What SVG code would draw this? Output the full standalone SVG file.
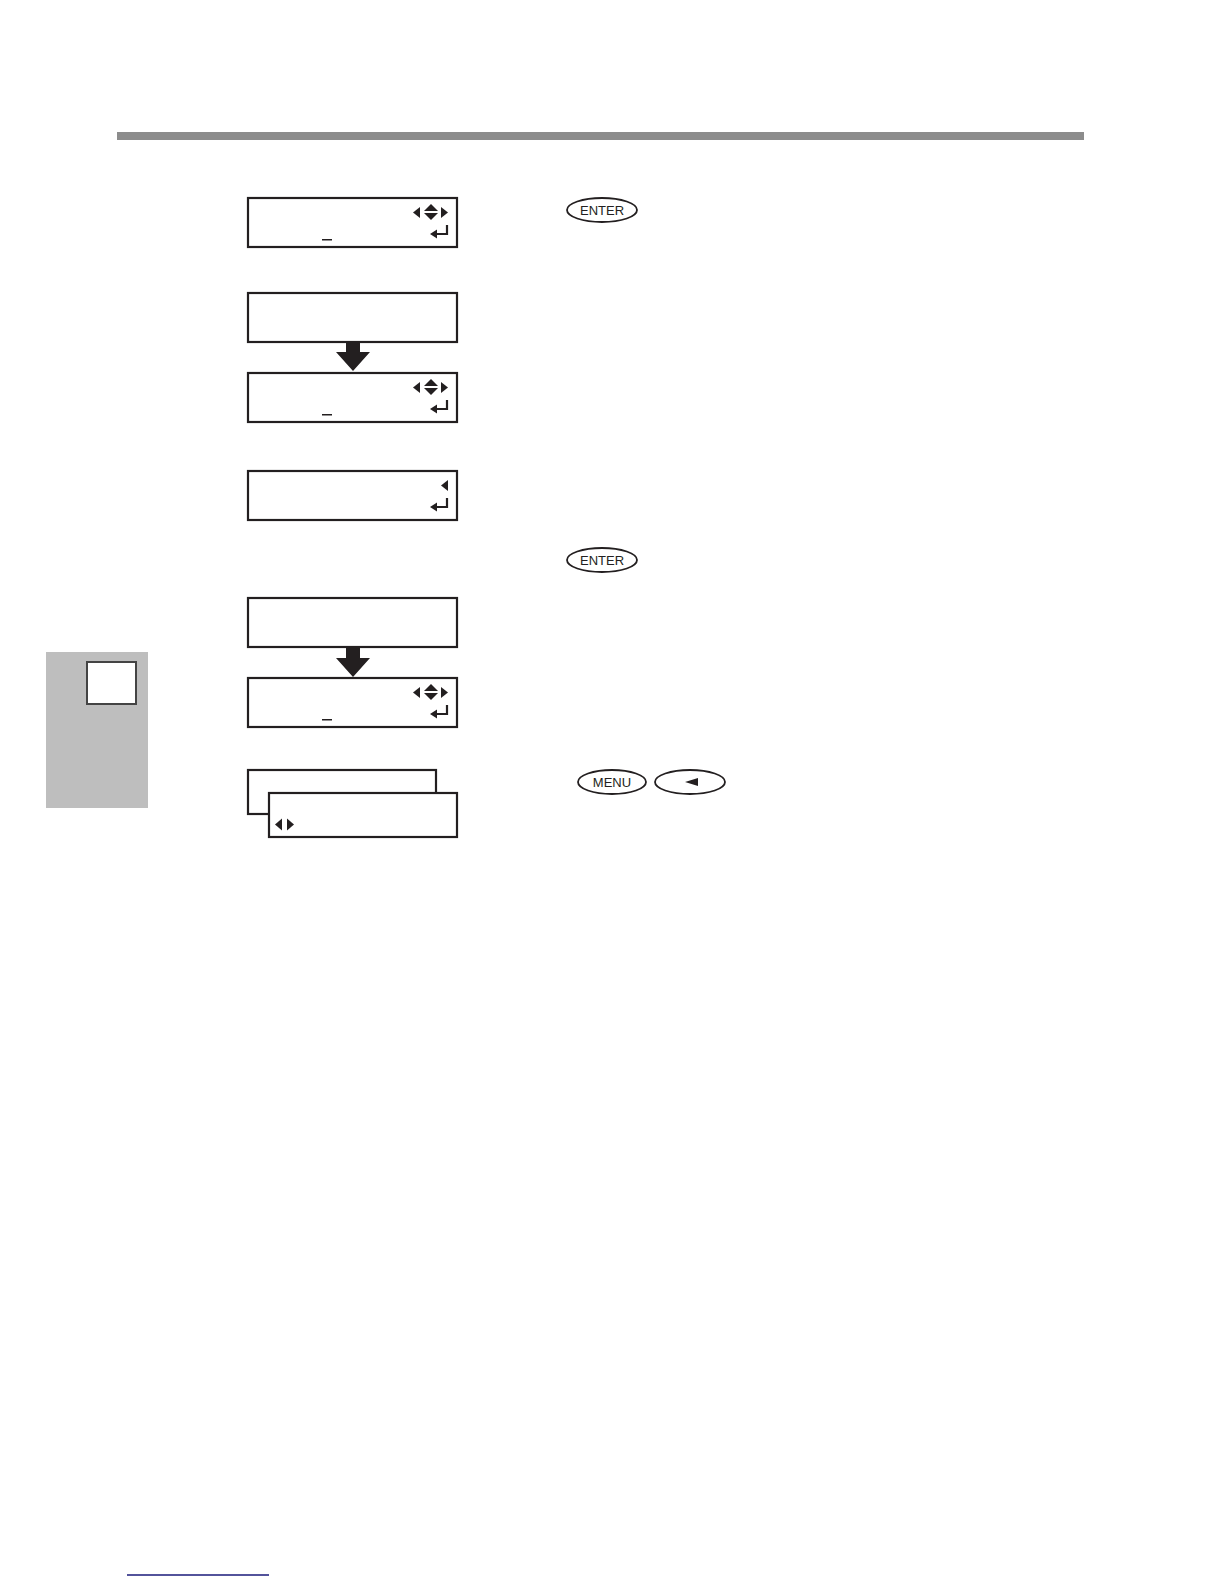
<svg xmlns="http://www.w3.org/2000/svg" xmlns:xlink="http://www.w3.org/1999/xlink" width="1224" height="1584" viewBox="0 0 1224 1584">
<style>
.lcd{fill:#fff;stroke:#231f20;stroke-width:2.2}
.ico{fill:#231f20}
.btn{fill:#fff;stroke:#231f20;stroke-width:1.8}
.btxt{font-family:"Liberation Sans",Arial,sans-serif;font-size:13px;fill:#231f20;text-anchor:middle}
.arr{fill:#231f20}
</style>
<defs>
<g id="nav" class="ico">
<polygon points="172,9 172,20 165,14.5"/>
<polygon points="176,13 183,6 190,13"/>
<polygon points="176,15 183,22 190,15"/>
<polygon points="193,9 200,14.5 193,20"/>
</g>
<g id="ret">
<path d="M199,27 V36 H188" fill="none" stroke="#231f20" stroke-width="2.2"/>
<polygon points="182,36 189,31.5 189,40.5" fill="#231f20"/>
</g>
<rect id="cur" x="74" y="41" width="10" height="1.5" fill="#231f20"/>
</defs>
<rect x="117" y="132" width="967" height="8" fill="#8c8c8c"/>
<g id="side-tab">
<rect x="46" y="652" width="102" height="156" fill="#bebebe"/>
<rect x="87" y="662" width="49" height="42" fill="#fff" stroke="#444" stroke-width="2"/>
</g>
<g id="lcd1" transform="translate(248,198)">
<rect class="lcd" x="0" y="0" width="209" height="49"/>
<use xlink:href="#nav"/><use xlink:href="#ret"/><use xlink:href="#cur"/>
</g>
<g id="lcd2a" transform="translate(248,293)">
<rect class="lcd" x="0" y="0" width="209" height="49"/>
</g>
<g id="lcd2b" transform="translate(248,373)">
<rect class="lcd" x="0" y="0" width="209" height="49"/>
<use xlink:href="#nav"/><use xlink:href="#ret"/><use xlink:href="#cur"/>
</g>
<g id="lcd3" transform="translate(248,471)">
<rect class="lcd" x="0" y="0" width="209" height="49"/>
<polygon class="ico" points="200,9 200,20 193,14.5"/>
<use xlink:href="#ret"/>
</g>
<g id="lcd4a" transform="translate(248,598)">
<rect class="lcd" x="0" y="0" width="209" height="49"/>
</g>
<g id="lcd4b" transform="translate(248,678)">
<rect class="lcd" x="0" y="0" width="209" height="49"/>
<use xlink:href="#nav"/><use xlink:href="#ret"/><use xlink:href="#cur"/>
</g>
<g id="lcd5">
<rect class="lcd" x="248" y="770" width="188" height="44"/>
<rect class="lcd" x="269" y="793" width="188" height="44"/>
<polygon class="ico" points="282,818.5 282,830.5 275,824.5"/>
<polygon class="ico" points="287,818.5 294,824.5 287,830.5"/>
</g>
<g id="btn-enter1">
<ellipse class="btn" cx="602" cy="210" rx="35" ry="12"/>
<text class="btxt" x="602" y="214.5">ENTER</text>
</g>
<g id="btn-enter2">
<ellipse class="btn" cx="602" cy="560" rx="35" ry="12"/>
<text class="btxt" x="602" y="564.5">ENTER</text>
</g>
<g id="btn-menu">
<ellipse class="btn" cx="612" cy="782" rx="34" ry="12"/>
<text class="btxt" x="612" y="786.5">MENU</text>
</g>
<g id="btn-left">
<ellipse class="btn" cx="690" cy="782" rx="35" ry="12"/>
<polygon class="ico" points="698,778 698,786 685,782"/>
</g>
<g id="connectors">
<path class="arr" d="M346,342 H360 V352 H370 L353,371 L336,352 H346 Z"/>
<path class="arr" d="M346,647 H360 V658 H370 L353,677 L336,658 H346 Z"/>
</g>
<line x1="127" y1="1575" x2="269" y2="1575" stroke="#1a1a7a" stroke-width="1.5"/>
</svg>
